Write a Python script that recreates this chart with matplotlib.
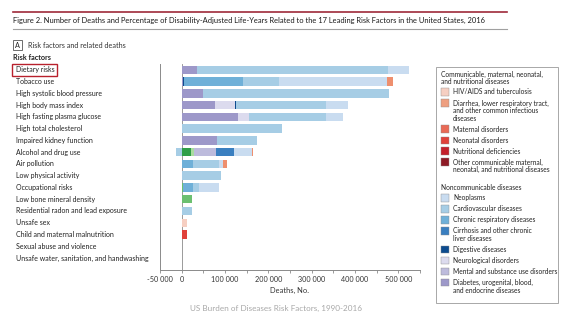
import matplotlib
matplotlib.use("Agg")
import matplotlib.pyplot as plt
import numpy as np
from matplotlib.patches import Rectangle
import matplotlib.transforms as mtransforms

plt.rcParams['font.family'] = ['Lato', 'DejaVu Sans']

# ---------------- data ----------------
risk_factors = ["Dietary risks", "Tobacco use", "High systolic blood pressure",
                "High body mass index", "High fasting plasma glucose",
                "High total cholesterol", "Impaired kidney function",
                "Alcohol and drug use", "Air pollution", "Low physical activity",
                "Occupational risks", "Low bone mineral density",
                "Residential radon and lead exposure", "Unsafe sex",
                "Child and maternal malnutrition", "Sexual abuse and violence",
                "Unsafe water, sanitation, and handwashing"]

# deaths attributable, by cause (stacking order, left to right)
transport_injuries   = [0, 0, 0, 0, 0, 0, 0, 21000, 0, 0, 0, 0, 0, 0, 0, 0, 0]
unintentional_inj    = [0, 0, 0, 0, 0, 0, 0, 0, 0, 0, 4000, 23000, 0, 0, 0, 0, 0]
selfharm_violence    = [0, 0, 0, 0, 0, 0, 0, 7500, 0, 0, 0, 0, 0, 0, 0, 1500, 0]
diabetes_endocrine   = [35000, 3000, 49000, 77000, 131000, 0, 81000, 0, 0, 0, 0, 0, 0, 0, 0, 0, 0]
mental_substance     = [0, 0, 0, 0, 0, 0, 0, 50000, 0, 0, 0, 0, 0, 0, 0, 0, 0]
neurological         = [0, 0, 0, 46000, 24000, 0, 0, 0, 0, 0, 0, 0, 0, 0, 0, 0, 0]
digestive            = [0, 3000, 0, 3000, 0, 0, 0, 0, 0, 0, 0, 0, 0, 0, 0, 0, 0]
cirrhosis            = [0, 0, 0, 0, 0, 0, 0, 43000, 0, 0, 0, 0, 0, 0, 0, 0, 0]
chronic_respiratory  = [0, 136000, 0, 0, 0, 0, 0, 0, 27000, 0, 23000, 0, 0, 0, 0, 0, 0]
cardiovascular       = [441000, 83500, 429000, 208000, 179000, 232500, 93000, -14000,
                        59000, 90000, 13000, 0, 23000, 0, 0, 0, 0]
neoplasms            = [48500, 248500, 0, 49000, 38500, 0, 0, 40000, 8500, 0, 47000, 0, 0, 0, 0, 0, 0]
hiv_tb               = [0, 0, 0, 0, 0, 0, 0, 0, 0, 0, 0, 0, 0, 13000, 0, 0, 0]
diarrhea_lri         = [0, 14000, 0, 0, 0, 0, 0, 3000, 9500, 0, 0, 0, 0, 0, 0, 0, 1000]
neonatal             = [0, 0, 0, 0, 0, 0, 0, 0, 0, 0, 0, 0, 0, 0, 11500, 0, 0]

series = [
    ("Transport injuries", transport_injuries, "#2f9e48"),
    ("Unintentional injuries", unintentional_inj, "#6cc070"),
    ("Self-harm and interpersonal violence", selfharm_violence, "#a9dca0"),
    ("Diabetes, urogenital, blood,\nand endocrine diseases", diabetes_endocrine, "#9d98c9"),
    ("Mental and substance use disorders", mental_substance, "#bdbbdc"),
    ("Neurological disorders", neurological, "#dcdbee"),
    ("Digestive diseases", digestive, "#0d4c8f"),
    ("Cirrhosis and other chronic\nliver diseases", cirrhosis, "#3a7fc0"),
    ("Chronic respiratory diseases", chronic_respiratory, "#6fb0d8"),
    ("Cardiovascular diseases", cardiovascular, "#a6cde5"),
    ("Neoplasms", neoplasms, "#c9dcf0"),
    ("HIV/AIDS and tuberculosis", hiv_tb, "#f6cfc2"),
    ("Diarrhea, lower respiratory tract,\nand other common infectious\ndiseases", diarrhea_lri, "#ee8f6e"),
    ("Neonatal disorders", neonatal, "#e0413a"),
]

legend_comm = [
    ("HIV/AIDS and tuberculosis", "#f6cfc2"),
    ("Diarrhea, lower respiratory tract,\nand other common infectious\ndiseases", "#ee9f80"),
    ("Maternal disorders", "#e96a56"),
    ("Neonatal disorders", "#e0413a"),
    ("Nutritional deficiencies", "#c4202b"),
    ("Other communicable maternal,\nneonatal, and nutritional diseases", "#8e1b26"),
]
legend_noncomm = [
    ("Neoplasms", "#c9dcf0"),
    ("Cardiovascular diseases", "#a6cde5"),
    ("Chronic respiratory diseases", "#6fb0d8"),
    ("Cirrhosis and other chronic\nliver diseases", "#3a7fc0"),
    ("Digestive diseases", "#0d4c8f"),
    ("Neurological disorders", "#dcdbee"),
    ("Mental and substance use disorders", "#bdbbdc"),
    ("Diabetes, urogenital, blood,\nand endocrine diseases", "#9d98c9"),
]

xtick_major = [-50000, 0, 100000, 200000, 300000, 400000, 500000]
xtick_minor = [50000, 150000, 250000, 350000, 450000, 550000]

# ---------------- figure ----------------
W, H = 567, 326
fig = plt.figure(figsize=(W / 100, H / 100), dpi=100)
fx = lambda px: px / W
fy = lambda py: 1 - py / H

ax = fig.add_axes([fx(160), fy(270), fx(420) - fx(160), fy(64) - fy(270)])

y = np.arange(len(risk_factors))
pos_left = np.zeros(len(risk_factors))
neg_left = np.zeros(len(risk_factors))
for name, vals, col in series:
    v = np.array(vals, dtype=float)
    pos = np.where(v > 0, v, 0)
    neg = np.where(v < 0, v, 0)
    if pos.any():
        ax.barh(y, pos, left=pos_left, height=0.72, color=col, linewidth=0)
    if neg.any():
        ax.barh(y, neg, left=neg_left, height=0.72, color=col, linewidth=0)
    pos_left += pos
    neg_left += neg

ax.set_xlim(-50000, 550000)
ax.set_ylim(17.02, -0.5)
ax.axvline(0, color="#8a8a8a", lw=0.6, zorder=0)

for s in ["top", "right"]:
    ax.spines[s].set_visible(False)
for s in ["left", "bottom"]:
    ax.spines[s].set_color("#8a8a8a")
    ax.spines[s].set_linewidth(0.7)

ax.set_yticks([])
ax.set_xticks(xtick_major)
ax.set_xticklabels([f"{v:,}".replace(",", " ") for v in xtick_major])
ax.set_xticks(xtick_minor, minor=True)
ax.tick_params(axis="x", which="both", length=2, width=0.6, color="#8a8a8a",
               labelsize=5.2, pad=2, labelcolor="#333333")
ax.set_xlabel("Deaths, No.", fontsize=5.4, color="#333333", labelpad=3)

# category labels
trans = mtransforms.blended_transform_factory(fig.transFigure, ax.transData)
for i, name in enumerate(risk_factors):
    ax.text(fx(16.5), i, name, transform=trans, ha="left", va="center",
            fontsize=5.05, color="#222222")

# red box around Dietary risks
fig.patches.append(Rectangle((fx(12), fy(75.5)), fx(57) - fx(12), fy(64) - fy(75.5),
                             transform=fig.transFigure, fill=False,
                             edgecolor="#b8202c", lw=1.0))

# header
fig.add_artist(plt.Line2D([fx(13), fx(507)], [fy(12), fy(12)], color="#9e2a3a", lw=1.2,
                          transform=fig.transFigure))
fig.add_artist(plt.Line2D([fx(13), fx(507)], [fy(29), fy(29)], color="#a0a0a0", lw=0.8,
                          transform=fig.transFigure))
fig.text(fx(13), fy(20.5), "Figure 2. Number of Deaths and Percentage of Disability-Adjusted "
         "Life-Years Related to the 17 Leading Risk Factors in the United States, 2016",
         ha="left", va="center", fontsize=5.45, color="#1a1a1a")
fig.patches.append(Rectangle((fx(13), fy(50)), fx(22) - fx(13), fy(40) - fy(50),
                             transform=fig.transFigure, fill=False,
                             edgecolor="#555555", lw=0.6))
fig.text(fx(17.5), fy(45), "A", ha="center", va="center", fontsize=5.2, color="#222222")
fig.text(fx(28), fy(45), "Risk factors and related deaths", ha="left", va="center",
         fontsize=5.2, color="#333333")
fig.text(fx(13), fy(57.5), "Risk factors", ha="left", va="center", fontsize=5.2,
         fontweight="bold", color="#222222")

# caption
fig.text(fx(276), fy(308), "US Burden of Diseases Risk Factors, 1990-2016", ha="center",
         va="center", fontsize=5.9, color="#a8a8a8")

# legend box
fig.patches.append(Rectangle((fx(436), fy(303)), fx(558) - fx(436), fy(67) - fy(303),
                             transform=fig.transFigure, fill=False,
                             edgecolor="#9a9a9a", lw=0.6))
LS = 7.6
LFS = 4.8


def legend_group(title_lines, entries, y0):
    yy = y0
    for t in title_lines:
        fig.text(fx(441), fy(yy), t, ha="left", va="center", fontsize=LFS, color="#222222")
        yy += LS
    yy += 2.8
    for label, col in entries:
        fig.patches.append(Rectangle((fx(441), fy(yy + 3.7)), fx(448.5) - fx(441),
                                     fy(yy - 3.7) - fy(yy + 3.7),
                                     transform=fig.transFigure, facecolor=col,
                                     edgecolor="#8c8c8c", lw=0.3))
        for j, line in enumerate(label.split("\n")):
            fig.text(fx(453), fy(yy + j * LS), line, ha="left", va="center",
                     fontsize=LFS, color="#222222")
        yy += LS * len(label.split("\n")) + 3.4
    return yy


legend_group(["Communicable, maternal, neonatal,", "and nutritional diseases"], legend_comm, 74)
legend_group(["Noncommunicable diseases"], legend_noncomm, 187.5)

fig.savefig("out.png", dpi=100)
